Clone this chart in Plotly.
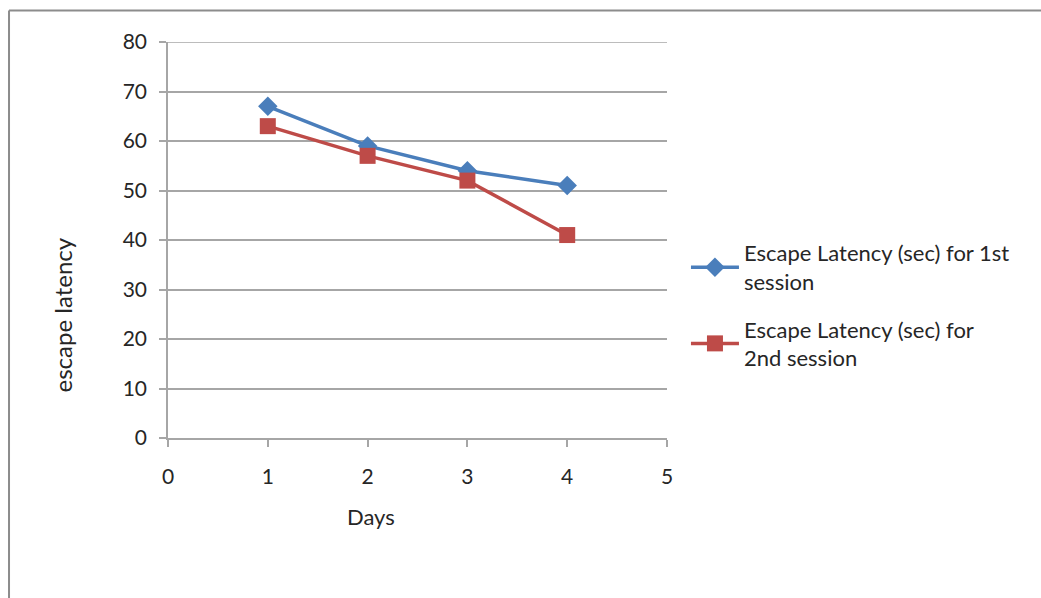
import plotly.graph_objects as go

# Escape latency per training day, two sessions
days = [1, 2, 3, 4]
session1 = [67, 59, 54, 51]
session2 = [63, 57, 52, 41]
series_names = [
    "Escape Latency (sec) for 1st<br>session",
    "Escape Latency (sec) for<br>2nd session",
]
x_ticks = [0, 1, 2, 3, 4, 5]
y_ticks = [0, 10, 20, 30, 40, 50, 60, 70, 80]

FONT = "Lato, 'Open Sans', sans-serif"
TEXT = "#262626"
GRID = "#a6a6a6"

fig = go.Figure()
fig.add_trace(go.Scatter(
    x=days, y=session1, name=series_names[0], mode="lines+markers",
    legendgroup="s1",
    line=dict(color="#4a7ebb", width=3.5),
    marker=dict(symbol="diamond", size=15, color="#4a7ebb"),
))
fig.add_trace(go.Scatter(
    x=days, y=session2, name=series_names[1], mode="lines+markers",
    legendgroup="s2",
    line=dict(color="#be4b48", width=3.5),
    marker=dict(symbol="square", size=16, color="#be4b48"),
))

fig.update_layout(
    width=1041, height=598,
    margin=dict(l=168, r=374, t=42, b=160),
    paper_bgcolor="white", plot_bgcolor="white",
    font=dict(family=FONT, size=21, color=TEXT),
    showlegend=True,
    legend=dict(
        x=1.038, y=0.52, xanchor="left", yanchor="top",
        font=dict(family=FONT, size=22, color=TEXT),
        tracegroupgap=16, itemwidth=48,
        bgcolor="rgba(0,0,0,0)",
    ),
    xaxis=dict(
        range=[0, 5], tickvals=x_ticks, showgrid=False, zeroline=False,
        showline=True, linecolor=GRID, linewidth=1.5,
        ticks="outside", ticklen=7, tickcolor=GRID, tickwidth=1.5,
        ticklabelstandoff=12,
    ),
    yaxis=dict(
        range=[0, 80], tickvals=y_ticks, showgrid=True, gridcolor=GRID,
        gridwidth=1.5, zeroline=False,
        showline=True, linecolor=GRID, linewidth=1.5,
        ticks="outside", ticklen=7, tickcolor=GRID, tickwidth=1.5,
        ticklabelstandoff=8,
    ),
)

# Top gridline at the axis maximum
fig.add_shape(type="line", xref="paper", yref="y",
              x0=-0.014, x1=1, y0=80, y1=80,
              line=dict(color=GRID, width=1.5))

# Axis titles
fig.add_annotation(text="Days", xref="x", yref="paper",
                   x=2.03, y=-0.197, xanchor="center", yanchor="middle",
                   showarrow=False,
                   font=dict(family=FONT, size=22, color=TEXT))
fig.add_annotation(text="escape latency", xref="paper", yref="paper",
                   x=-0.212, y=0.31, xanchor="center", yanchor="middle",
                   textangle=-90, showarrow=False,
                   font=dict(family=FONT, size=24, color=TEXT))

# Outer chart frame (left and top edges)
fig.add_shape(type="line", xref="paper", yref="paper",
              x0=-0.3186, x1=-0.3186, y0=-0.42, y1=1.0795,
              line=dict(color="#8c8c8c", width=2))
fig.add_shape(type="line", xref="paper", yref="paper",
              x0=-0.3186, x1=1.76, y0=1.0795, y1=1.0795,
              line=dict(color="#8c8c8c", width=2))

fig.write_html("out.html")
